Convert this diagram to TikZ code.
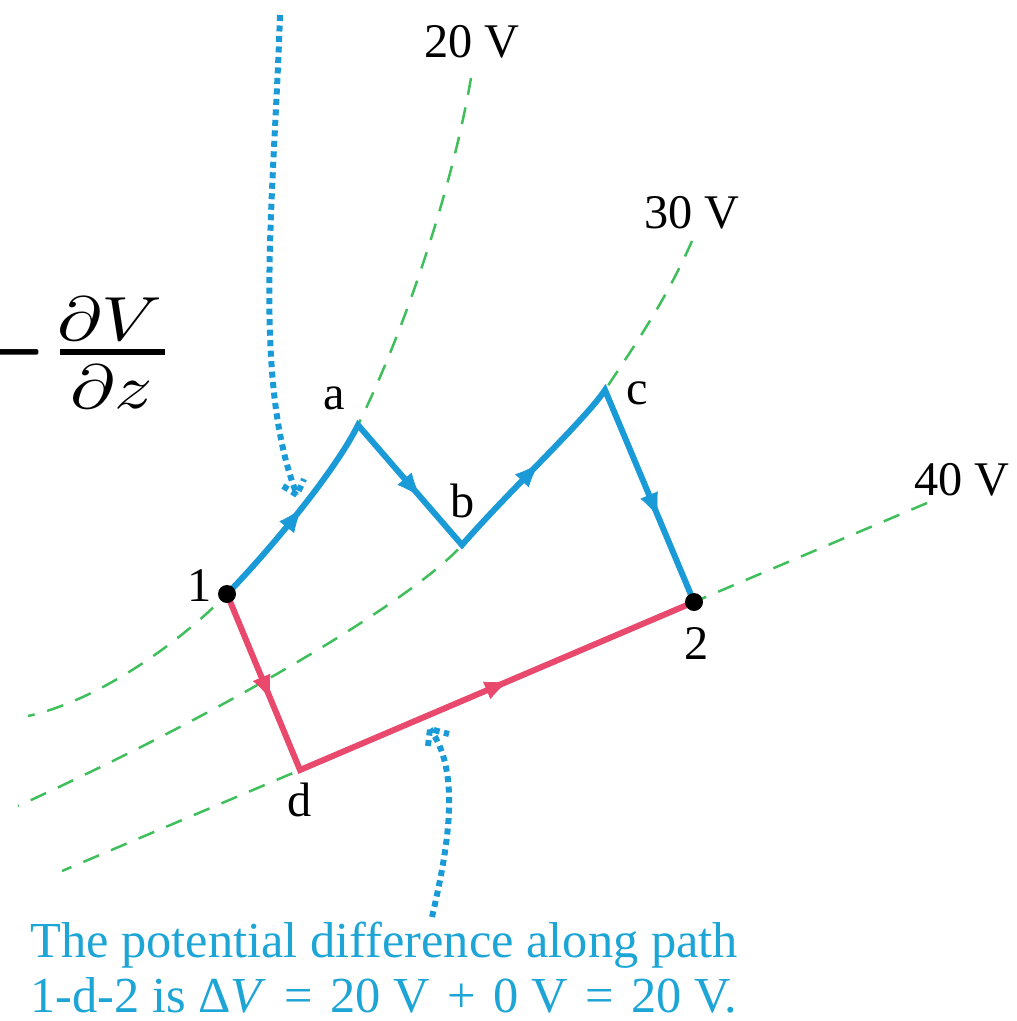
\documentclass[tikz,border=0pt]{standalone}
\usepackage{fontspec}
\setmainfont{Liberation Serif}
\usetikzlibrary{arrows.meta,decorations.markings,calc}
\definecolor{pathblue}{HTML}{1A9BD8}
\definecolor{pathred}{HTML}{E8496C}
\definecolor{eqgreen}{HTML}{3FBF5C}
\definecolor{txtblue}{HTML}{1DA5D6}
\begin{document}
\begin{tikzpicture}[x=0.02cm,y=-0.02cm,
  equi/.style={eqgreen, line width=0.05cm, dash pattern=on 0.34cm off 0.26cm},
  route/.style={line width=0.12cm, line join=miter},
  midarrow/.style={postaction={decorate}, decoration={markings,
     mark=at position #1 with {\arrow{Latex[length=0.48cm,width=0.38cm]}}}},
  dotline/.style={pathblue, line width=0.12cm, dash pattern=on 0.12cm off 0.09cm},
  lab/.style={font=\fontsize{27.5}{33}\selectfont, text=black, inner sep=0pt},
  note/.style={font=\fontsize{28.7}{34}\selectfont, text=txtblue, inner sep=0pt, anchor=base west},
  mathpart/.style={inner sep=0pt, anchor=base},
  dotnode/.style={circle, fill=black, inner sep=0pt, minimum size=0.36cm}]
\useasboundingbox (0,0) rectangle (1017,1021);
% points
\coordinate (p1) at (227,594);
\coordinate (pa) at (358,425);
\coordinate (pb) at (462,545);
\coordinate (pc) at (605,390);
\coordinate (p2) at (694,602);
\coordinate (pd) at (300,770);
% equipotential ends
\coordinate (e20t) at (471,78);
\coordinate (e20b) at (28,716);
\coordinate (e30t) at (692,241);
\coordinate (e30b) at (18,806);
\coordinate (e40t) at (927,503);
\coordinate (e40b) at (62,871);
% equipotentials
\draw[equi] (e20t) .. controls (450,200) and (400,340) .. (pa)
   .. controls (336,470) and (270,550) .. (p1)
   .. controls (180,642) and (100,700) .. (e20b);
\draw[equi] (e30t) .. controls (666,300) and (635,345) .. (pc)
   .. controls (585,420) and (510,490) .. (pb)
   .. controls (420,593) and (250,700) .. (e30b);
\draw[equi] (e40t) -- (p2) -- (pd) -- (e40b);
% blue route
\draw[route, pathblue] (p1) .. controls (270,550) and (336,470) .. (pa)
   -- (pb) .. controls (510,490) and (585,420) .. (pc) -- (p2);
\path[pathblue, midarrow=0.53] (p1) .. controls (270,550) and (336,470) .. (pa);
\path[pathblue, midarrow=0.6] (pa) -- (pb);
\path[pathblue, midarrow=0.53] (pb) .. controls (510,490) and (585,420) .. (pc);
\path[pathblue, midarrow=0.6] (pc) -- (p2);
% red route
\draw[route, pathred] (p1) -- (pd) -- (p2);
\path[pathred, midarrow=0.6] (p1) -- (pd);
\path[pathred, midarrow=0.53] (pd) -- (p2);
% dots
\node[dotnode] (n1) at (p1) {};
\node[dotnode] (n2) at (p2) {};
% labels
\node[lab] (la) at (334,398) {a};
\node[lab] (lb) at (463,501) {b};
\node[lab] (lc) at (637,393) {c};
\node[lab] (ld) at (300,800) {d};
\node[lab] (l1) at (200,586) {1};
\node[lab] (l2) at (697,643) {2};
\node[lab] (v20) at (472,42) {20 V};
\node[lab] (v30) at (692,213) {30 V};
\node[lab] (v40) at (962,480) {40 V};
% math fragment  -dV/dz
\node[inner sep=0pt, anchor=base east] (eqminus) at (46,387) {\scalebox{4.3}[8]{$-$}};
\node[mathpart] (eqnum) at (110,340) {\scalebox{4.3}[3.55]{$\partial V$}};
\node[mathpart] (eqden) at (112,408) {\scalebox{4.3}[3.55]{$\partial z$}};
\coordinate (barl) at (60,352);
\coordinate (barr) at (165,352);
\draw[line width=0.11cm] (barl) -- (barr);
% dotted pointer arrows
\coordinate (s1) at (280,15);
\coordinate (t1) at (297,495);
\coordinate (t1a) at (283,486);
\coordinate (t1b) at (304,479);
\draw[dotline] (s1) .. controls (274,200) and (252,380) .. (t1);
\draw[dotline] (t1a) -- (t1) -- (t1b);
\coordinate (s2) at (432,917);
\coordinate (t2) at (430,729);
\coordinate (t2a) at (428,746);
\coordinate (t2b) at (449,734);
\draw[dotline] (s2) .. controls (450,840) and (460,770) .. (t2);
\draw[dotline] (t2a) -- (t2) -- (t2b);
% caption
\node[note] (cap1) at (30,957) {The potential difference along path};
\node[note] (cap2) at (30,1012) {1-d-2 is Δ\textit{V}\hspace{0.1cm} = \hspace{0.1cm}20 V\hspace{0.1cm} + \hspace{0.1cm}0 V\hspace{0.1cm} = \hspace{0.1cm}20 V.};
\end{tikzpicture}
\end{document}
